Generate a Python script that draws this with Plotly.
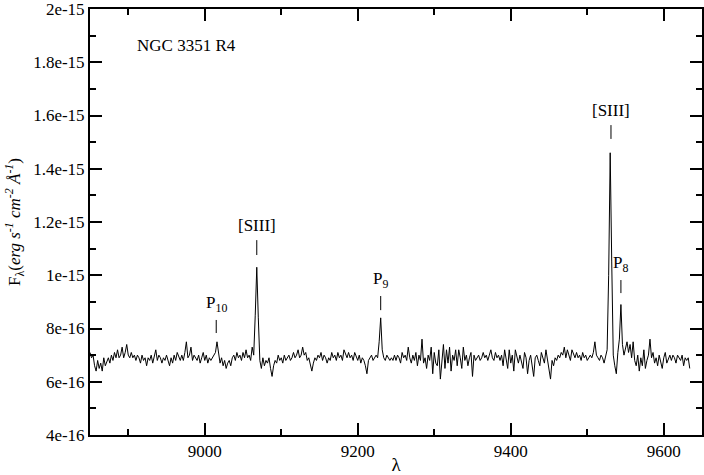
import plotly.graph_objects as go

# ---------------- data ----------------
# wavelength grid (Angstrom), 2 A sampling
wavelength = list(range(8850, 9636, 2))

# flux in units of 1e-16 erg s^-1 cm^-2 A^-1
flux_e16 = [
    7.1, 6.9, 7.0, 6.6, 6.4, 6.8, 6.5, 6.7, 6.4, 6.9,   # 8850
    6.6, 6.8, 6.9, 6.7, 7.0, 6.8, 7.1, 6.9, 7.2, 6.9,   # 8870
    7.0, 7.3, 6.9, 7.1, 7.4, 7.0, 6.9, 7.1, 6.9, 7.0,   # 8890
    6.8, 7.0, 6.9, 6.7, 7.0, 6.8, 6.9, 6.6, 6.9, 6.8,   # 8910
    7.0, 6.7, 6.9, 7.2, 6.8, 7.0, 6.9, 6.7, 6.9, 6.8,   # 8930
    7.0, 6.8, 6.6, 6.9, 6.7, 7.0, 6.8, 7.1, 6.9, 6.8,   # 8950
    7.0, 6.8, 7.1, 7.5, 6.9, 7.0, 7.3, 6.8, 7.0, 6.9,   # 8970
    6.8, 7.0, 6.7, 6.9, 7.1, 6.8, 7.0, 6.7, 6.9, 6.8,   # 8990
    6.9, 7.0, 7.1, 7.5, 7.0, 6.7, 6.9, 6.6, 6.8, 6.5,   # 9010
    6.7, 6.8, 6.6, 6.9, 7.0, 6.8, 7.1, 6.9, 7.0, 6.8,   # 9030
    7.1, 6.9, 7.2, 6.9, 7.0, 6.8, 7.3, 7.0, 8.5, 10.3,  # 9050
    8.4, 6.8, 6.5, 6.9, 6.6, 6.8, 6.7, 6.9, 6.5, 6.2,   # 9070
    6.6, 6.8, 6.7, 7.0, 6.8, 6.9, 6.7, 7.0, 6.8, 6.9,   # 9090
    7.0, 6.8, 6.9, 7.1, 6.9, 7.0, 7.2, 6.9, 7.0, 7.3,   # 9110
    7.0, 7.1, 6.8, 6.9, 6.6, 6.4, 6.7, 6.9, 6.8, 7.0,   # 9130
    6.9, 7.1, 6.8, 7.0, 6.9, 6.7, 6.9, 6.8, 7.1, 6.9,   # 9150
    7.0, 6.8, 7.1, 6.9, 7.0, 6.8, 7.2, 7.0, 6.9, 7.1,   # 9170
    6.9, 7.0, 6.8, 7.1, 6.9, 6.8, 7.0, 6.7, 6.9, 6.8,   # 9190
    6.6, 6.3, 6.8, 6.9, 7.0, 6.8, 6.9, 7.0, 6.9, 7.5,   # 9210
    8.4, 7.2, 6.9, 6.8, 7.0, 6.9, 6.8, 6.9, 6.8, 7.0,   # 9230
    6.8, 7.0, 6.9, 6.7, 7.1, 6.9, 7.0, 6.8, 7.3, 6.9,   # 9250
    6.7, 7.0, 6.8, 7.1, 6.6, 7.0, 6.8, 7.6, 6.7, 6.9,   # 9270
    6.5, 7.0, 6.8, 7.3, 6.3, 7.1, 6.7, 6.6, 7.2, 6.1,   # 9290
    6.9, 7.4, 6.5, 7.2, 6.7, 7.3, 6.4, 7.0, 6.8, 7.2,   # 9310
    6.6, 7.2, 6.9, 6.5, 7.3, 6.8, 7.0, 6.6, 6.9, 7.1,   # 9330
    6.2, 7.0, 6.8, 6.9, 7.0, 6.8, 6.9, 7.1, 6.9, 7.0,   # 9350
    6.8, 7.0, 7.2, 6.9, 6.8, 7.1, 6.9, 7.0, 6.8, 7.0,   # 9370
    6.6, 7.2, 6.9, 6.5, 7.2, 6.7, 7.0, 6.4, 7.2, 6.9,   # 9390
    6.7, 7.0, 6.8, 6.5, 7.1, 6.9, 6.3, 6.8, 7.0, 6.6,   # 9410
    6.2, 6.9, 7.0, 6.8, 6.6, 7.1, 6.9, 6.7, 7.2, 6.8,   # 9430
    6.5, 6.1, 6.8, 6.6, 6.9, 6.8, 7.0, 6.9, 7.1, 7.0,   # 9450
    7.3, 6.9, 7.2, 7.0, 6.8, 7.2, 7.0, 6.9, 7.1, 6.9,   # 9470
    7.0, 6.8, 7.1, 6.9, 7.0, 6.8, 6.9, 7.0, 6.9, 7.1,   # 9490
    7.5, 7.0, 6.9, 6.8, 7.0, 6.9, 6.7, 6.9, 7.2, 10.0,  # 9510
    14.6, 10.5, 7.0, 6.6, 6.3, 7.1, 7.6, 8.9, 7.4, 7.0, # 9530
    7.2, 7.5, 7.1, 7.4, 6.9, 7.5, 6.8, 6.6, 7.0, 6.4,   # 9550
    6.9, 6.6, 7.2, 6.5, 6.8, 7.0, 7.6, 6.9, 7.1, 6.7,   # 9570
    6.9, 6.6, 7.0, 6.8, 6.5, 6.9, 7.1, 6.7, 6.9, 7.0,   # 9590
    6.8, 7.0, 6.9, 6.7, 7.0, 6.9, 6.8, 7.0, 6.6, 6.9,   # 9610
    6.8, 6.9, 6.5,                                      # 9630
]
flux = [v * 1e-16 for v in flux_e16]

# emission-line identifications
line_wavelengths = [9015, 9068, 9230, 9531, 9544]
line_labels = ["P<sub>10</sub>", "[SIII]", "P<sub>9</sub>", "[SIII]", "P<sub>8</sub>"]
# marker tick extent (flux, 1e-16 units): top, bottom
mark_top = [8.32, 11.32, 9.22, 15.64, 9.82]
mark_bottom = [7.83, 10.76, 8.69, 15.12, 9.33]

# axis ticks
x_ticks = [9000, 9200, 9400, 9600]
y_tickvals = [4e-16, 6e-16, 8e-16, 1e-15, 1.2e-15, 1.4e-15, 1.6e-15, 1.8e-15, 2e-15]
y_ticktext = ["4e-16", "6e-16", "8e-16", "1e-15", "1.2e-15", "1.4e-15",
              "1.6e-15", "1.8e-15", "2e-15"]

FONT = "Liberation Serif"

fig = go.Figure()
fig.add_trace(go.Scatter(
    x=wavelength, y=flux, mode="lines",
    line=dict(color="black", width=1),
    showlegend=False, hoverinfo="skip",
))

for wl, lab, top, bot in zip(line_wavelengths, line_labels, mark_top, mark_bottom):
    fig.add_shape(type="line", xref="x", yref="y",
                  x0=wl, x1=wl, y0=bot * 1e-16, y1=top * 1e-16,
                  line=dict(color="black", width=1))
    fig.add_annotation(x=wl, y=top * 1e-16, xref="x", yref="y",
                       text=lab, showarrow=False, yanchor="bottom",
                       xanchor="center", yshift=3,
                       font=dict(family=FONT, size=17, color="black"))

fig.add_annotation(x=0.073, y=0.915, xref="paper", yref="paper",
                   text="NGC 3351 R4", showarrow=False,
                   xanchor="left", yanchor="middle",
                   font=dict(family=FONT, size=17, color="black"))

axis_common = dict(
    showline=True, linecolor="black", linewidth=2, mirror="ticks",
    ticks="inside", ticklen=12, tickwidth=1.5, tickcolor="black",
    showgrid=False, zeroline=False, ticklabeloverflow="allow",
    tickfont=dict(family=FONT, size=17, color="black"),
)

fig.update_xaxes(
    range=[8850, 9650], tickvals=x_ticks,
    minor=dict(ticks="inside", ticklen=6, dtick=100, tick0=8900,
               tickcolor="black", tickwidth=1.5),
    title=dict(text="λ", font=dict(family=FONT, size=19, color="black"), standoff=4),
    **axis_common,
)
fig.update_yaxes(
    range=[4e-16, 2e-15], tickvals=y_tickvals, ticktext=y_ticktext,
    minor=dict(ticks="inside", ticklen=6, dtick=1e-16, tick0=0,
               tickcolor="black", tickwidth=1.5),
    title=dict(text="F<sub>λ</sub>(<i>erg s<sup>-1</sup> cm<sup>-2</sup> Å<sup>-1</sup></i>)",
               font=dict(family=FONT, size=17, color="black"), standoff=8),
    **axis_common,
)

fig.update_layout(
    width=704, height=475,
    margin=dict(l=90, r=2, t=9, b=40, autoexpand=False),
    paper_bgcolor="white", plot_bgcolor="white",
    font=dict(family=FONT, size=17, color="black"),
)

# remove the default page margin so the figure fills the window
fig.write_html("out.html",
               config={"displayModeBar": False},
               post_script="document.body.style.margin='0px';document.body.style.overflow='hidden';")
